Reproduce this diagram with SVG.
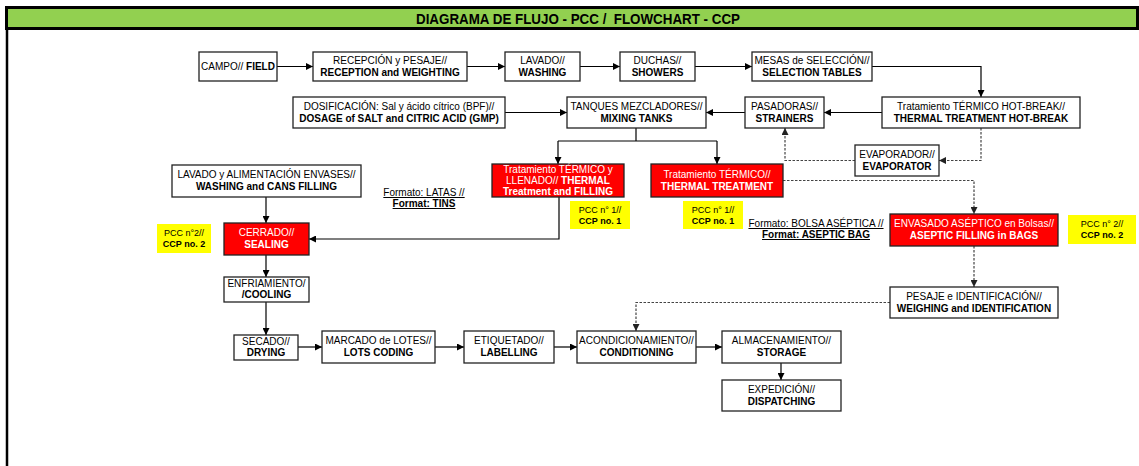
<svg xmlns="http://www.w3.org/2000/svg" width="1139" height="466" viewBox="0 0 1139 466">
<defs>
<marker id="ah" markerWidth="7" markerHeight="7" refX="7" refY="3.5" orient="auto" markerUnits="userSpaceOnUse"><path d="M0,0 L7,3.5 L0,7 z" fill="#000"/></marker>
<marker id="ahg" markerWidth="7" markerHeight="7" refX="7" refY="3.5" orient="auto" markerUnits="userSpaceOnUse"><path d="M0,0 L7,3.5 L0,7 z" fill="#222"/></marker>
<style>
text{font-family:"Liberation Sans",Arial,sans-serif;font-size:10px;fill:#000;text-anchor:middle}
.b{font-weight:bold}
.w{fill:#fff}
.s{font-size:9px}
.box{fill:#fff;stroke:#222;stroke-width:1.3}
.red{fill:#ff0000;stroke:#222;stroke-width:1.3}
.yel{fill:#ffff00;stroke:none}
.c{fill:none;stroke:#000;stroke-width:1.2;marker-end:url(#ah)}
.cn{fill:none;stroke:#000;stroke-width:1.2}
.d{fill:none;stroke:#444;stroke-width:1.2;stroke-dasharray:2.5,1.5;marker-end:url(#ahg)}
.u{text-decoration:underline}
</style>
</defs>
<rect width="1139" height="466" fill="#fff"/>
<g id="title">
<rect x="6.5" y="7.5" width="1131" height="21" fill="#92d050" stroke="#000" stroke-width="3"/>
<text x="578" y="24" class="b" style="font-size:14.5px" textLength="324" lengthAdjust="spacingAndGlyphs">DIAGRAMA DE FLUJO - PCC /&#160; FLOWCHART - CCP</text>
<line x1="7" y1="29" x2="7" y2="466" stroke="#000" stroke-width="2.5"/>
</g>
<g id="connectors">
<path class="c" d="M277,66.5 H313"/>
<path class="c" d="M467,66.5 H505"/>
<path class="c" d="M580,66.5 H620"/>
<path class="c" d="M695,66.5 H752"/>
<path class="c" d="M872,66.5 H981 V97"/>
<path class="c" d="M882,112.5 H824"/>
<path class="c" d="M745,112.5 H706"/>
<path class="c" d="M505,112.5 H567"/>
<path class="cn" d="M636,128 V141 M558,141 H717"/>
<path class="c" d="M558,141 V164"/>
<path class="c" d="M717,141 V164"/>
<path class="d" d="M981,128 V160.5 H939"/>
<path class="d" d="M855,160.5 H785 V128"/>
<path class="d" d="M783,180.5 H974 V214"/>
<path class="d" d="M974,246 V287"/>
<path class="d" d="M890,302.5 H636 V331"/>
<path class="c" d="M559,197 V239 H309"/>
<path class="c" d="M266,197 V223"/>
<path class="c" d="M266,255 V277"/>
<path class="c" d="M266,302 V335"/>
<path class="c" d="M298,347 H322"/>
<path class="c" d="M435,347 H464"/>
<path class="c" d="M554,347 H577"/>
<path class="c" d="M696,347 H722"/>
<path class="c" d="M781,363 V380"/>
</g>
<g id="campo"><rect class="box" x="199" y="52" width="78" height="29"/><text x="238" y="70">CAMPO// <tspan class="b">FIELD</tspan></text></g>
<g id="recepcion"><rect class="box" x="313" y="52" width="154" height="29"/><text x="390" y="64">RECEPCIÓN y PESAJE//</text><text x="390" y="76" class="b">RECEPTION and WEIGHTING</text></g>
<g id="lavado"><rect class="box" x="505" y="52" width="75" height="29"/><text x="542.5" y="64">LAVADO//</text><text x="542.5" y="76" class="b">WASHING</text></g>
<g id="duchas"><rect class="box" x="620" y="52" width="75" height="29"/><text x="657.5" y="64">DUCHAS//</text><text x="657.5" y="76" class="b">SHOWERS</text></g>
<g id="mesas"><rect class="box" x="752" y="52" width="120" height="29"/><text x="812" y="64">MESAS de SELECCIÓN//</text><text x="812" y="76" class="b">SELECTION TABLES</text></g>
<g id="dosificacion"><rect class="box" x="293" y="97" width="212" height="31"/><text x="399" y="110">DOSIFICACIÓN: Sal y ácido cítrico (BPF)//</text><text x="399" y="122" class="b">DOSAGE of SALT and CITRIC ACID (GMP)</text></g>
<g id="tanques"><rect class="box" x="567" y="97" width="139" height="31"/><text x="636.5" y="110">TANQUES MEZCLADORES//</text><text x="636.5" y="122" class="b">MIXING TANKS</text></g>
<g id="pasadoras"><rect class="box" x="745" y="97" width="79" height="31"/><text x="784.5" y="110">PASADORAS//</text><text x="784.5" y="122" class="b">STRAINERS</text></g>
<g id="hotbreak"><rect class="box" x="882" y="97" width="198" height="31"/><text x="981" y="110">Tratamiento TÉRMICO HOT-BREAK//</text><text x="981" y="122" class="b">THERMAL TREATMENT HOT-BREAK</text></g>
<g id="evaporador"><rect class="box" x="855" y="145" width="84" height="31"/><text x="897" y="158">EVAPORADOR//</text><text x="897" y="170" class="b">EVAPORATOR</text></g>
<g id="termico-llenado"><rect class="red" x="492" y="164" width="132" height="33"/><text x="558" y="173" class="w">Tratamiento TÉRMICO y</text><text x="558" y="184" class="w">LLENADO// <tspan class="b">THERMAL</tspan></text><text x="558" y="195" class="w b">Treatment and FILLING</text></g>
<g id="termico"><rect class="red" x="651" y="164" width="132" height="33"/><text x="717" y="178" class="w">Tratamiento TÉRMICO//</text><text x="717" y="190" class="w b">THERMAL TREATMENT</text></g>
<g id="lavado-envases"><rect class="box" x="172" y="165" width="189" height="32"/><text x="266.5" y="178">LAVADO y ALIMENTACIÓN ENVASES//</text><text x="266.5" y="190" class="b">WASHING and CANS FILLING</text></g>
<g id="cerrado"><rect class="red" x="224" y="223" width="85" height="32"/><text x="266.5" y="236" class="w">CERRADO//</text><text x="266.5" y="248" class="w b">SEALING</text></g>
<g id="envasado"><rect class="red" x="890" y="214" width="168" height="32"/><text x="974" y="227" class="w">ENVASADO ASÉPTICO en Bolsas//</text><text x="974" y="239" class="w b">ASEPTIC FILLING in BAGS</text></g>
<g id="pesaje"><rect class="box" x="890" y="287" width="168" height="31"/><text x="974" y="300">PESAJE e IDENTIFICACIÓN//</text><text x="974" y="312" class="b">WEIGHING and IDENTIFICATION</text></g>
<g id="enfriamiento"><rect class="box" x="224" y="277" width="85" height="25"/><text x="266.5" y="287">ENFRIAMIENTO/</text><text x="266.5" y="298" class="b">/COOLING</text></g>
<g id="secado"><rect class="box" x="234" y="335" width="64" height="25"/><text x="266" y="345">SECADO//</text><text x="266" y="356" class="b">DRYING</text></g>
<g id="marcado"><rect class="box" x="322" y="331" width="113" height="32"/><text x="378.5" y="344">MARCADO de LOTES//</text><text x="378.5" y="356" class="b">LOTS CODING</text></g>
<g id="etiquetado"><rect class="box" x="464" y="331" width="90" height="32"/><text x="509" y="344">ETIQUETADO//</text><text x="509" y="356" class="b">LABELLING</text></g>
<g id="acondicionamiento"><rect class="box" x="577" y="331" width="119" height="32"/><text x="636.5" y="344">ACONDICIONAMIENTO//</text><text x="636.5" y="356" class="b">CONDITIONING</text></g>
<g id="almacenamiento"><rect class="box" x="722" y="331" width="119" height="32"/><text x="781.5" y="344">ALMACENAMIENTO//</text><text x="781.5" y="356" class="b">STORAGE</text></g>
<g id="expedicion"><rect class="box" x="722" y="380" width="119" height="31"/><text x="781.5" y="393">EXPEDICIÓN//</text><text x="781.5" y="405" class="b">DISPATCHING</text></g>
<g id="pcc1a"><rect class="yel" x="570" y="201" width="60" height="28"/><text x="600" y="213" class="s">PCC n° 1//</text><text x="600" y="224" class="s b">CCP no. 1</text></g>
<g id="pcc1b"><rect class="yel" x="683" y="201" width="60" height="28"/><text x="713" y="213" class="s">PCC n° 1//</text><text x="713" y="224" class="s b">CCP no. 1</text></g>
<g id="pcc2a"><rect class="yel" x="1068" y="215" width="68" height="29"/><text x="1102" y="227" class="s">PCC n° 2//</text><text x="1102" y="238" class="s b">CCP no. 2</text></g>
<g id="pcc2b"><rect class="yel" x="157" y="224" width="54" height="29"/><text x="184" y="236" class="s">PCC n°2//</text><text x="184" y="247" class="s b">CCP no. 2</text></g>
<g id="formato-latas"><text x="424" y="196" class="u">Formato: LATAS //</text><text x="424" y="207" class="u b">Format: TINS</text></g>
<g id="formato-bolsa"><text x="816" y="227" class="u">Formato: BOLSA ASÉPTICA //</text><text x="816" y="238" class="u b">Format: ASEPTIC BAG</text></g>
</svg>
